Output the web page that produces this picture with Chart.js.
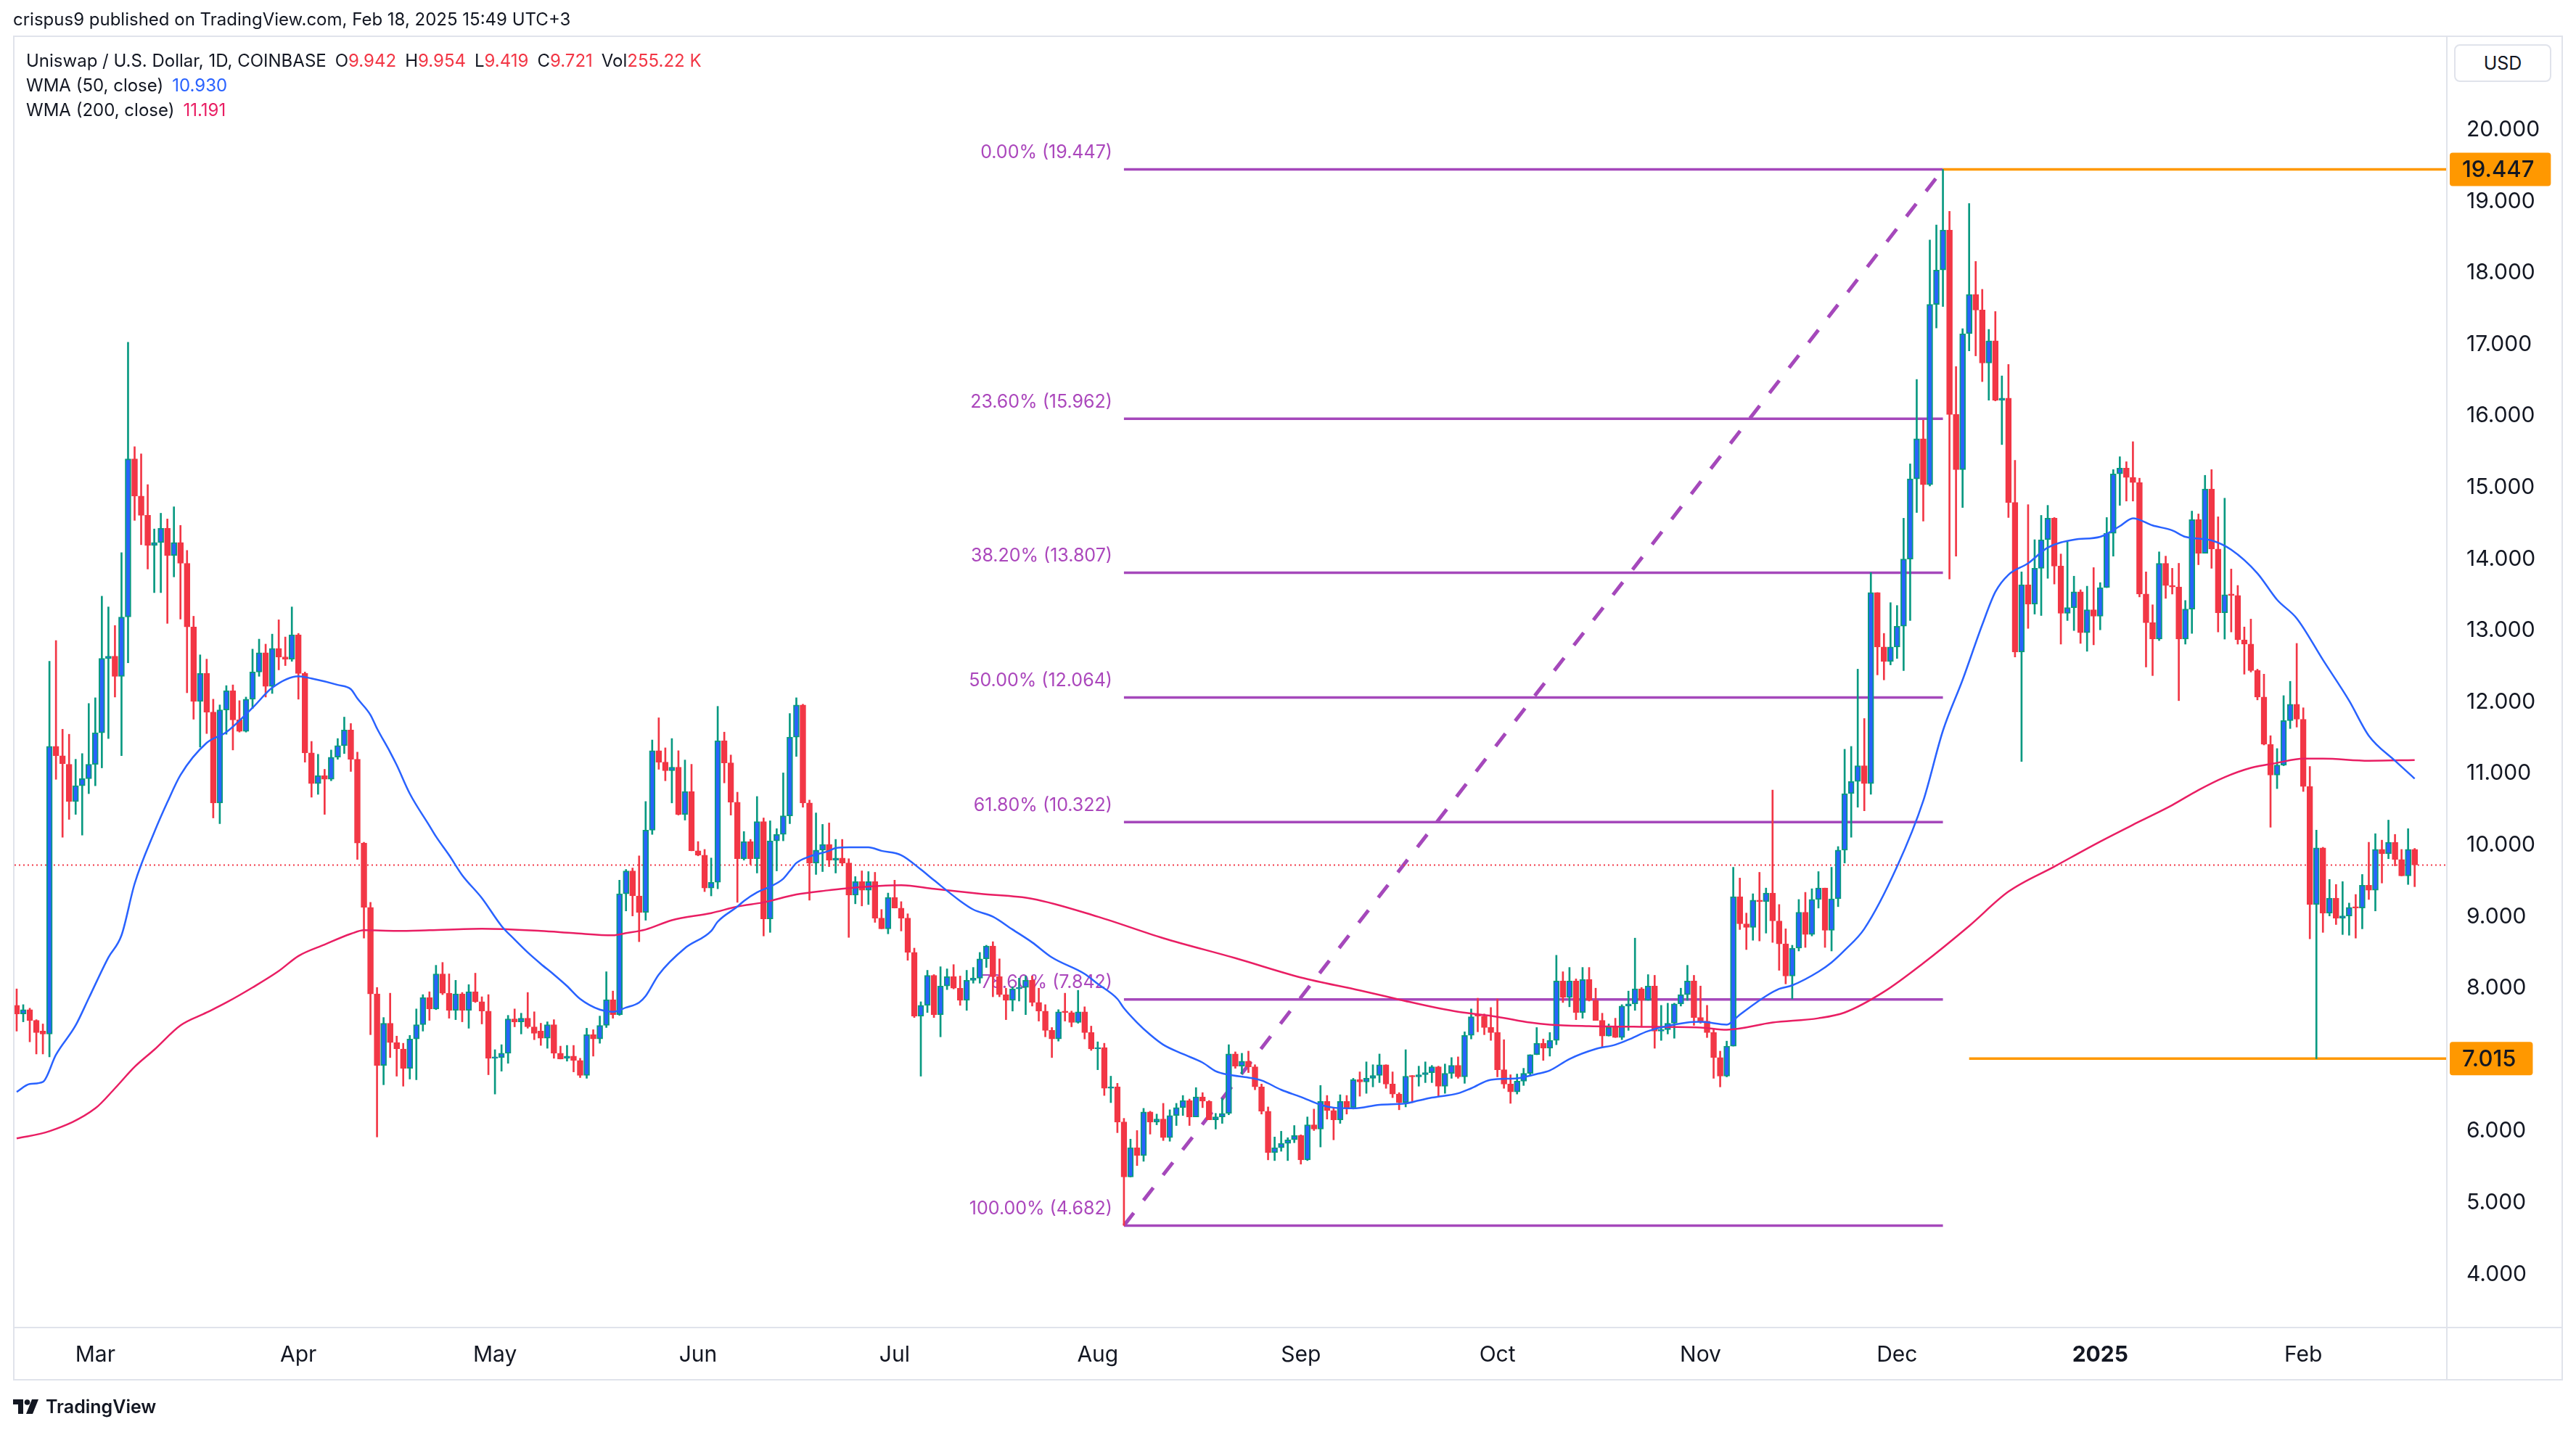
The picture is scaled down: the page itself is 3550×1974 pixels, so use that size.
<!DOCTYPE html>
<html lang="en">
  <head>
    <meta charset="UTF-8" />
    <title>Uniswap / U.S. Dollar, 1D, COINBASE</title>
    <script src="https://cdn.jsdelivr.net/npm/chart.js"></script>
    <style>
      html, body { margin: 0; padding: 0; background: #ffffff; }
      body { font-family: Inter, "Noto Sans", sans-serif; color: #131722; }
      #wrap { position: relative; width: 3550px; height: 1974px; overflow: hidden; }
      #chart { position: absolute; left: 0; top: 0; }
      .txt { position: absolute; white-space: nowrap; font-size: 24px; line-height: 34px; }
      .gap { margin-left: 12px; }
      .red { color: #f23645; }
      .blue { color: #2962ff; }
      .pink { color: #e91e63; }
      #usd { position: absolute; left: 3382px; top: 61px; width: 134px; height: 52px; border: 2px solid #e0e3eb; border-radius: 8px; box-sizing: border-box; font-size: 25px; line-height: 48px; text-align: center; background: #fff; }
      #logo { position: absolute; left: 18px; top: 1924px; display: flex; align-items: center; gap: 9px; font-size: 25px; font-weight: 600; }
    </style>
  </head>
  <body>
    <div id="wrap">
      <canvas id="chart" width="3550" height="1974"></canvas>

      <!-- header / legend -->
      <div class="txt" style="left:18px; top:10px;">crispus9 published on TradingView.com, Feb 18, 2025 15:49 UTC+3</div>
      <div class="txt" style="left:36px; top:67px;">Uniswap / U.S. Dollar, 1D, COINBASE<span class="gap">O</span><span class="red">9.942</span><span class="gap">H</span><span class="red">9.954</span><span class="gap">L</span><span class="red">9.419</span><span class="gap">C</span><span class="red">9.721</span><span class="gap">Vol</span><span class="red">255.22 K</span></div>
      <div class="txt" style="left:36px; top:101px;">WMA (50, close)<span class="gap blue">10.930</span></div>
      <div class="txt" style="left:36px; top:135px;">WMA (200, close)<span class="gap pink">11.191</span></div>
      <div id="usd">USD</div>

      <div id="logo">
        <svg width="36" height="28" viewBox="0 0 36 28">
          <path d="M0 4h14v20h-7v-13h-7z" fill="#131722"/>
          <circle cx="19.5" cy="8" r="3.8" fill="#131722"/>
          <path d="M26 4h9l-8 20h-9z" fill="#131722"/>
        </svg>
        <span>TradingView</span>
      </div>
    </div>

    <script>
      // ---- data (day 0 = 18 Feb 2024, one daily candle per day) ----
      const opens = [
        7.76, 7.64, 7.70, 7.55, 7.40, 7.36, 11.38, 11.25, 11.13, 10.61,
        10.83, 10.93, 11.13, 11.57, 12.61, 12.64, 12.36, 13.19, 15.40, 14.88,
        14.61, 14.19, 14.23, 14.43, 14.05, 14.23, 13.94, 13.05, 12.01, 12.40,
        11.86, 10.59, 11.89, 12.16, 11.75, 11.59, 12.04, 12.42, 12.69, 12.22,
        12.75, 12.63, 12.60, 12.94, 12.40, 11.29, 10.86, 10.97, 10.92, 11.23,
        11.39, 11.61, 11.20, 10.03, 9.13, 7.92, 6.92, 7.51, 7.24, 7.15,
        6.88, 7.29, 7.49, 7.87, 7.71, 8.20, 7.93, 7.69, 7.92, 7.69,
        7.95, 7.81, 7.68, 7.02, 7.03, 7.09, 7.57, 7.53, 7.58, 7.46,
        7.40, 7.30, 7.49, 7.09, 7.02, 7.05, 6.99, 6.78, 7.35, 7.29,
        7.48, 7.84, 7.63, 9.32, 9.64, 9.29, 9.06, 10.21, 11.32, 11.16,
        11.04, 11.09, 10.43, 10.75, 9.92, 9.86, 9.40, 9.48, 11.46, 11.15,
        10.60, 9.81, 10.05, 9.81, 10.33, 8.97, 10.06, 10.15, 10.41, 11.51,
        11.96, 10.59, 9.75, 9.93, 10.01, 9.79, 9.82, 9.75, 9.30, 9.49,
        9.37, 9.49, 8.98, 8.83, 9.27, 9.12, 8.98, 8.50, 7.61, 7.76,
        8.18, 7.63, 8.03, 8.16, 8.00, 7.83, 8.11, 8.14, 8.41, 8.59,
        8.16, 7.91, 7.83, 7.99, 8.01, 8.11, 7.80, 7.68, 7.41, 7.29,
        7.67, 7.66, 7.52, 7.67, 7.38, 7.15, 7.17, 6.60, 6.62, 6.13,
        5.36, 5.77, 5.66, 6.27, 6.13, 6.17, 5.91, 6.22, 6.33, 6.43,
        6.20, 6.48, 6.42, 6.16, 6.20, 6.25, 7.08, 6.91, 6.98, 6.90,
        6.62, 6.28, 5.70, 5.77, 5.83, 5.88, 5.94, 5.60, 6.09, 6.03,
        6.42, 6.29, 6.16, 6.42, 6.33, 6.72, 6.69, 6.74, 6.78, 6.93,
        6.66, 6.52, 6.40, 6.77, 6.76, 6.79, 6.82, 6.90, 6.63, 6.81,
        6.92, 6.76, 7.34, 7.63, 7.61, 7.45, 7.38, 6.86, 6.66, 6.55,
        6.70, 6.81, 7.07, 7.23, 7.16, 7.27, 8.10, 7.87, 8.10, 7.66,
        8.12, 7.83, 7.55, 7.33, 7.45, 7.31, 7.75, 7.78, 7.99, 7.83,
        8.03, 7.40, 7.42, 7.51, 7.78, 7.91, 8.10, 7.59, 7.54, 7.38,
        7.03, 6.77, 7.19, 9.28, 8.90, 8.85, 9.23, 9.21, 9.33, 8.94,
        8.62, 8.17, 8.56, 9.06, 8.75, 9.24, 9.40, 8.81, 9.25, 9.93,
        10.72, 10.89, 11.11, 10.86, 13.53, 12.77, 12.57, 12.77, 13.06, 14.00,
        15.12, 15.68, 15.04, 17.56, 18.04, 18.60, 16.02, 15.25, 17.15, 17.70,
        17.48, 16.74, 17.05, 16.22, 16.25, 14.79, 12.70, 13.64, 13.37, 13.87,
        14.27, 14.57, 13.90, 13.24, 13.32, 13.54, 12.97, 13.29, 13.20, 13.60,
        14.36, 15.19, 15.27, 15.14, 15.07, 13.51, 13.11, 12.88, 13.94, 13.63,
        13.61, 12.88, 13.30, 14.55, 14.08, 14.98, 14.14, 13.25, 13.50, 13.49,
        12.87, 12.81, 12.44, 12.07, 11.41, 10.98, 11.12, 11.74, 11.97, 11.76,
        10.82, 9.17, 9.96, 9.05, 9.26, 8.98, 9.01, 9.14, 9.12, 9.44,
        9.37, 9.94, 9.88, 10.04, 9.80, 9.57, 9.942
      ];
      const highs = [
        7.99, 7.77, 7.72, 7.56, 7.50, 12.57, 12.86, 11.62, 11.55, 11.20,
        11.28, 11.98, 12.06, 13.48, 13.33, 13.07, 14.09, 17.03, 15.57, 15.47,
        15.04, 14.42, 14.64, 14.56, 14.73, 14.47, 14.12, 13.20, 12.66, 12.60,
        12.04, 11.96, 12.23, 12.24, 12.02, 12.07, 12.74, 12.88, 12.81, 12.95,
        13.15, 12.91, 13.33, 12.96, 12.42, 11.45, 11.27, 11.06, 11.33, 11.49,
        11.79, 11.70, 11.30, 10.04, 9.20, 8.01, 7.59, 7.93, 7.33, 7.23,
        7.34, 7.71, 7.91, 7.95, 8.32, 8.36, 8.20, 8.11, 7.94, 8.05,
        8.21, 7.88, 7.91, 7.14, 7.21, 7.62, 7.71, 7.65, 7.94, 7.67,
        7.51, 7.53, 7.56, 7.19, 7.20, 7.20, 7.02, 7.44, 7.42, 7.61,
        8.23, 7.96, 9.51, 9.66, 9.68, 9.85, 10.61, 11.47, 11.78, 11.36,
        11.49, 11.32, 11.19, 11.13, 10.05, 9.94, 9.82, 11.94, 11.58, 11.26,
        10.74, 10.19, 10.08, 10.68, 10.38, 10.34, 10.23, 11.01, 11.84, 12.06,
        11.97, 10.63, 10.45, 10.29, 10.31, 10.08, 10.08, 9.81, 9.56, 9.64,
        9.63, 9.62, 9.10, 9.33, 9.51, 9.21, 9.04, 8.56, 7.81, 8.25,
        8.19, 8.30, 8.27, 8.33, 8.17, 8.25, 8.29, 8.50, 8.60, 8.65,
        8.41, 8.00, 8.02, 8.14, 8.17, 8.17, 8.00, 7.77, 7.45, 7.70,
        7.93, 7.68, 7.97, 7.74, 7.47, 7.25, 7.23, 6.77, 6.67, 6.18,
        5.89, 6.01, 6.32, 6.28, 6.24, 6.39, 6.30, 6.39, 6.50, 6.45,
        6.61, 6.54, 6.43, 6.25, 6.46, 7.21, 7.11, 7.09, 7.12, 6.93,
        6.66, 6.34, 5.92, 6.00, 5.91, 6.08, 5.95, 6.20, 6.31, 6.64,
        6.50, 6.33, 6.51, 6.50, 6.74, 6.83, 6.97, 6.93, 7.08, 6.93,
        6.83, 6.54, 7.14, 6.78, 6.91, 6.97, 6.92, 6.91, 6.94, 7.03,
        7.04, 7.39, 7.71, 7.86, 7.64, 7.73, 7.85, 7.28, 6.79, 6.80,
        6.88, 7.07, 7.45, 7.29, 7.38, 8.46, 8.23, 8.29, 8.13, 8.29,
        8.29, 8.00, 7.65, 7.50, 7.58, 7.77, 7.96, 8.70, 8.01, 8.19,
        8.18, 7.76, 7.79, 7.79, 8.00, 8.32, 8.18, 8.03, 7.76, 7.43,
        7.12, 7.26, 9.69, 9.54, 9.05, 9.32, 9.62, 9.40, 10.77, 9.17,
        8.83, 8.60, 9.24, 9.34, 9.39, 9.63, 9.40, 9.69, 9.98, 11.34,
        11.38, 12.46, 11.77, 13.81, 13.53, 12.96, 13.39, 13.35, 14.57, 15.33,
        16.51, 15.94, 18.46, 18.67, 19.447, 18.86, 16.69, 17.22, 18.97, 18.16,
        17.77, 17.21, 17.46, 16.56, 16.72, 15.38, 13.82, 14.76, 14.27, 14.61,
        14.75, 14.58, 14.07, 14.24, 13.76, 13.57, 13.62, 13.88, 13.67, 14.58,
        15.25, 15.43, 15.36, 15.64, 15.13, 13.82, 13.36, 14.10, 14.04, 13.87,
        13.94, 13.42, 14.67, 14.63, 15.17, 15.25, 14.59, 14.85, 13.86, 13.63,
        13.05, 13.16, 12.46, 12.39, 11.53, 11.35, 12.09, 12.29, 12.82, 11.92,
        11.10, 10.21, 9.97, 9.52, 9.45, 9.49, 9.19, 9.31, 9.59, 10.04,
        10.16, 10.07, 10.35, 10.15, 9.94, 10.23, 9.954
      ];
      const lows = [
        7.40, 7.53, 7.25, 7.08, 7.08, 7.04, 10.92, 10.11, 10.36, 10.43,
        10.14, 10.72, 10.83, 11.08, 11.49, 12.07, 11.25, 12.55, 14.54, 14.20,
        13.86, 13.53, 13.53, 13.10, 13.75, 13.16, 12.13, 11.76, 11.37, 11.56,
        10.38, 10.30, 11.55, 11.33, 11.58, 11.58, 11.91, 12.36, 12.07, 12.12,
        12.45, 12.51, 12.57, 12.04, 11.16, 10.67, 10.71, 10.43, 10.90, 11.20,
        11.28, 11.03, 9.80, 8.70, 7.35, 5.92, 6.65, 7.03, 6.77, 6.63,
        6.73, 6.72, 7.40, 7.55, 7.70, 7.91, 7.58, 7.56, 7.53, 7.44,
        7.80, 7.50, 6.79, 6.52, 6.84, 6.95, 7.46, 7.36, 7.44, 7.28,
        7.20, 7.16, 7.02, 7.01, 6.98, 6.83, 6.75, 6.74, 7.05, 7.23,
        7.45, 7.58, 7.62, 9.08, 9.01, 8.65, 8.95, 10.15, 11.06, 10.90,
        10.59, 10.42, 10.35, 9.92, 9.85, 9.35, 9.29, 9.39, 10.87, 10.42,
        9.20, 9.79, 9.73, 9.61, 8.73, 8.78, 9.64, 10.06, 10.30, 11.24,
        10.53, 9.23, 9.59, 9.63, 9.70, 9.61, 9.71, 8.71, 9.18, 9.15,
        9.17, 8.92, 8.83, 8.76, 9.12, 8.80, 8.39, 7.59, 6.77, 7.66,
        7.59, 7.32, 7.98, 7.99, 7.76, 7.69, 8.07, 8.07, 8.29, 7.88,
        7.88, 7.56, 7.68, 7.82, 7.63, 7.75, 7.54, 7.32, 7.03, 7.26,
        7.54, 7.46, 7.51, 7.29, 7.13, 6.86, 6.50, 6.40, 5.98, 4.682,
        5.36, 5.52, 5.58, 5.96, 6.09, 5.87, 5.86, 6.08, 6.22, 6.08,
        6.20, 6.33, 6.16, 6.03, 6.11, 6.23, 6.88, 6.80, 6.82, 6.58,
        6.24, 5.60, 5.59, 5.72, 5.59, 5.84, 5.54, 5.59, 6.01, 5.78,
        6.17, 5.88, 6.11, 6.24, 6.31, 6.49, 6.53, 6.62, 6.68, 6.60,
        6.47, 6.30, 6.34, 6.40, 6.63, 6.68, 6.68, 6.48, 6.53, 6.74,
        6.74, 6.67, 7.29, 7.39, 7.35, 7.27, 6.76, 6.60, 6.39, 6.52,
        6.64, 6.77, 7.07, 6.99, 7.05, 7.21, 7.80, 7.74, 7.56, 7.58,
        7.82, 7.55, 7.18, 7.33, 7.31, 7.28, 7.41, 7.69, 7.47, 7.83,
        7.16, 7.27, 7.36, 7.30, 7.75, 7.83, 7.48, 7.51, 7.31, 6.74,
        6.62, 6.76, 7.19, 8.82, 8.54, 8.67, 8.66, 8.77, 8.64, 8.25,
        8.06, 7.85, 8.52, 8.57, 8.73, 9.12, 8.57, 8.52, 9.14, 9.75,
        10.11, 10.53, 10.48, 10.71, 12.38, 12.31, 12.52, 12.61, 12.44, 13.14,
        14.65, 14.53, 15.02, 17.23, 17.53, 13.72, 14.04, 14.72, 16.91, 16.84,
        16.48, 16.22, 16.21, 15.60, 14.58, 12.63, 11.17, 13.03, 13.23, 13.21,
        13.73, 13.65, 12.81, 13.14, 13.00, 12.82, 12.71, 12.80, 13.01, 13.60,
        14.04, 14.75, 14.81, 14.81, 13.47, 12.49, 12.37, 12.86, 13.45, 13.51,
        12.02, 12.81, 12.96, 13.92, 14.08, 13.87, 12.98, 12.88, 12.98, 12.81,
        12.39, 12.42, 12.03, 11.40, 10.25, 10.79, 11.11, 11.63, 11.65, 10.75,
        8.69, 7.015, 8.78, 9.01, 8.89, 8.75, 8.74, 8.70, 8.83, 9.24,
        9.08, 9.47, 9.81, 9.71, 9.57, 9.45, 9.419
      ];
      const closes = [
        7.64, 7.70, 7.55, 7.38, 7.36, 11.38, 11.25, 11.14, 10.61, 10.83,
        10.93, 11.13, 11.57, 12.61, 12.64, 12.36, 13.19, 15.40, 14.88, 14.61,
        14.19, 14.23, 14.43, 14.05, 14.23, 13.94, 13.05, 12.01, 12.40, 11.86,
        10.59, 11.89, 12.16, 11.75, 11.59, 12.04, 12.42, 12.69, 12.22, 12.75,
        12.63, 12.60, 12.94, 12.40, 11.29, 10.86, 10.97, 10.92, 11.23, 11.39,
        11.61, 11.20, 10.03, 9.13, 7.92, 6.92, 7.51, 7.24, 7.15, 6.88,
        7.29, 7.49, 7.87, 7.71, 8.20, 7.93, 7.69, 7.92, 7.69, 7.95,
        7.81, 7.68, 7.02, 7.03, 7.09, 7.57, 7.53, 7.58, 7.46, 7.37,
        7.30, 7.49, 7.09, 7.01, 7.05, 6.99, 6.78, 7.35, 7.29, 7.48,
        7.84, 7.63, 9.32, 9.64, 9.29, 9.06, 10.21, 11.32, 11.16, 11.04,
        11.09, 10.43, 10.75, 9.92, 9.86, 9.40, 9.48, 11.46, 11.15, 10.60,
        9.81, 10.05, 9.81, 10.33, 8.97, 10.06, 10.15, 10.41, 11.51, 11.96,
        10.59, 9.75, 9.93, 10.01, 9.79, 9.82, 9.75, 9.30, 9.49, 9.37,
        9.49, 8.98, 8.83, 9.27, 9.12, 8.98, 8.50, 7.61, 7.76, 8.18,
        7.63, 8.03, 8.16, 8.00, 7.83, 8.11, 8.14, 8.41, 8.59, 8.16,
        7.91, 7.83, 7.99, 8.01, 8.11, 7.80, 7.68, 7.41, 7.29, 7.67,
        7.66, 7.52, 7.67, 7.38, 7.15, 7.17, 6.60, 6.62, 6.13, 5.36,
        5.77, 5.66, 6.27, 6.13, 6.17, 5.91, 6.22, 6.33, 6.43, 6.20,
        6.48, 6.42, 6.16, 6.20, 6.25, 7.08, 6.91, 6.98, 6.90, 6.62,
        6.28, 5.70, 5.77, 5.83, 5.88, 5.94, 5.60, 6.09, 6.03, 6.42,
        6.29, 6.16, 6.42, 6.33, 6.72, 6.69, 6.74, 6.78, 6.93, 6.66,
        6.52, 6.40, 6.77, 6.76, 6.79, 6.82, 6.90, 6.63, 6.81, 6.92,
        6.76, 7.34, 7.60, 7.61, 7.45, 7.38, 6.86, 6.66, 6.55, 6.70,
        6.81, 7.07, 7.23, 7.16, 7.27, 8.10, 7.87, 8.10, 7.66, 8.12,
        7.83, 7.55, 7.33, 7.45, 7.31, 7.75, 7.78, 7.99, 7.83, 8.03,
        7.40, 7.42, 7.51, 7.78, 7.91, 8.10, 7.59, 7.54, 7.38, 7.03,
        6.77, 7.19, 9.28, 8.90, 8.85, 9.23, 9.21, 9.33, 8.94, 8.62,
        8.17, 8.56, 9.06, 8.75, 9.24, 9.40, 8.81, 9.25, 9.93, 10.72,
        10.89, 11.11, 10.86, 13.53, 12.77, 12.57, 12.77, 13.06, 14.00, 15.12,
        15.68, 15.04, 17.56, 18.04, 18.60, 16.02, 15.25, 17.15, 17.70, 17.48,
        16.74, 17.05, 16.22, 16.25, 14.79, 12.70, 13.64, 13.37, 13.87, 14.27,
        14.57, 13.90, 13.24, 13.32, 13.54, 12.97, 13.29, 13.20, 13.60, 14.36,
        15.19, 15.27, 15.14, 15.07, 13.51, 13.11, 12.88, 13.94, 13.63, 13.61,
        12.88, 13.30, 14.55, 14.08, 14.98, 14.14, 13.25, 13.50, 13.49, 12.87,
        12.81, 12.44, 12.07, 11.41, 10.98, 11.12, 11.74, 11.97, 11.76, 10.82,
        9.17, 9.96, 9.05, 9.26, 8.98, 9.01, 9.13, 9.12, 9.44, 9.37,
        9.94, 9.88, 10.04, 9.80, 9.57, 9.942, 9.721
      ];

      // WMA readings (day index -> value)
      const wma50Days = [0, 2, 4, 6, 9, 11, 14, 16, 18, 21, 23, 25, 29, 32, 36, 39, 43, 45, 49, 51,
        52, 54, 55, 57, 58, 60, 63, 64, 66, 68, 71, 74, 76, 78, 80, 82, 84, 86, 89, 91,
        93, 95, 96, 98, 102, 106, 107, 110, 111, 113, 115, 117, 118, 119, 121, 124, 125, 127, 130, 132,
        135, 138, 140, 144, 146, 149, 152, 155, 158, 163, 165, 168, 169, 171, 173, 175, 178, 181, 183, 185,
        188, 190, 193, 196, 199, 201, 204, 208, 212, 214, 216, 220, 222, 225, 229, 232, 234, 237, 241, 244,
        246, 249, 255, 257, 261, 263, 267, 269, 271, 275, 277, 279, 282, 287, 291, 294, 297, 300, 302, 304,
        307, 310, 314, 318, 321, 323, 326, 329, 331, 335, 338, 342, 345, 348, 352, 356, 359, 363, 366];
      const wma50Values = [6.55, 6.66, 6.69, 7.07, 7.48, 7.86, 8.43, 8.74, 9.46, 10.18, 10.60, 10.98, 11.43, 11.58, 11.92, 12.20, 12.36, 12.33, 12.24, 12.18,
        12.05, 11.82, 11.63, 11.30, 11.12, 10.72, 10.27, 10.12, 9.86, 9.58, 9.26, 8.87, 8.68, 8.50, 8.34, 8.19, 8.03, 7.85, 7.70, 7.67,
        7.73, 7.80, 7.89, 8.19, 8.56, 8.80, 8.93, 9.14, 9.22, 9.34, 9.42, 9.53, 9.64, 9.75, 9.84, 9.92, 9.96, 9.97, 9.97, 9.92,
        9.86, 9.66, 9.51, 9.22, 9.10, 9.00, 8.82, 8.64, 8.43, 8.20, 8.06, 7.85, 7.72, 7.52, 7.35, 7.21, 7.08, 6.96, 6.84, 6.79,
        6.75, 6.71, 6.58, 6.48, 6.37, 6.33, 6.32, 6.37, 6.39, 6.43, 6.47, 6.53, 6.60, 6.72, 6.74, 6.80, 6.85, 7.01, 7.15, 7.21,
        7.28, 7.40, 7.52, 7.53, 7.49, 7.63, 7.89, 7.99, 8.04, 8.23, 8.36, 8.53, 8.83, 9.70, 10.62, 11.60, 12.31, 13.08, 13.54, 13.78,
        13.94, 14.16, 14.27, 14.31, 14.46, 14.57, 14.47, 14.40, 14.31, 14.26, 14.13, 13.80, 13.43, 13.17, 12.59, 12.02, 11.53, 11.18, 10.93];

      const wma200Days = [0, 5, 12, 15, 18, 21, 25, 29, 32, 36, 40, 43, 47, 51, 53, 58, 63, 71, 80, 85,
        91, 93, 96, 100, 106, 110, 114, 119, 124, 127, 135, 140, 147, 155, 165, 175, 186, 196, 205, 212,
        217, 220, 226, 231, 234, 240, 248, 257, 261, 268, 275, 279, 285, 291, 298, 304, 311, 318, 324, 329,
        333, 337, 341, 345, 349, 352, 359, 366];
      const wma200Values = [5.90, 6.00, 6.32, 6.60, 6.90, 7.14, 7.48, 7.66, 7.80, 8.01, 8.24, 8.45, 8.61, 8.76, 8.81, 8.80, 8.81, 8.83, 8.80, 8.77,
        8.74, 8.77, 8.82, 8.95, 9.05, 9.14, 9.20, 9.31, 9.37, 9.40, 9.44, 9.39, 9.32, 9.25, 9.00, 8.70, 8.42, 8.15, 7.97, 7.82,
        7.72, 7.67, 7.60, 7.52, 7.49, 7.47, 7.46, 7.45, 7.42, 7.52, 7.58, 7.66, 7.95, 8.35, 8.87, 9.35, 9.70, 10.05, 10.33, 10.56,
        10.77, 10.95, 11.08, 11.15, 11.21, 11.21, 11.18, 11.19];

      // Fibonacci retracement drawn from the Aug low to the Dec high
      const fibStartDay = 169;
      const fibEndDay = 294;
      const fibRatios = ['0.00%', '23.60%', '38.20%', '50.00%', '61.80%', '78.60%', '100.00%'];
      const fibLevels = [19.447, 15.962, 13.807, 12.064, 10.322, 7.842, 4.682];

      const highMark = 19.447, highMarkDay = 294;
      const lowMark = 7.015, lowMarkDay = 298;
      const lastPrice = 9.721;

      const monthDays = [12, 43, 73, 104, 134, 165, 196, 226, 257, 287, 318, 349];
      const monthLabels = ['Mar', 'Apr', 'May', 'Jun', 'Jul', 'Aug', 'Sep', 'Oct', 'Nov', 'Dec', '2025', 'Feb'];
      const priceTicks = [4, 5, 6, 7, 8, 9, 10, 11, 12, 13, 14, 15, 16, 17, 18, 19, 20];

      // ---- chart ----
      const FONT = 'Inter, "Noto Sans", sans-serif';
      Chart.defaults.font.family = FONT;
      const xMin = -0.33, xMax = 370.8;
      const yMin = 3.266, yMax = 21.308;

      const UP = '#089981', UP_FILL = '#2962ff', DOWN = '#f23645';
      const isUp = closes.map((c, i) => c >= opens[i]);
      const bodies = closes.map((c, i) => ({ x: i, y: [opens[i], c] }));
      const wicks = closes.map((c, i) => ({ x: i, y: [lows[i], highs[i]] }));

      const flatLine = (x0, x1, v) => [{ x: x0, y: v }, { x: x1, y: v }];
      const FIB = '#a548bb';

      const overlayPlugin = {
        id: 'overlay',
        beforeDatasetsDraw(chart) {
          const { ctx, scales: { x, y } } = chart;
          ctx.save();
          ctx.font = '25px ' + FONT;
          ctx.fillStyle = '#ab47bc';
          ctx.textAlign = 'right';
          ctx.textBaseline = 'middle';
          const lx = x.getPixelForValue(fibStartDay) - 16;
          fibLevels.forEach((lv, i) => {
            ctx.fillText(fibRatios[i] + ' (' + lv.toFixed(3) + ')', lx, y.getPixelForValue(lv) - 23);
          });
          ctx.restore();
        },
        afterDraw(chart) {
          const { ctx, chartArea: a, scales: { y } } = chart;
          ctx.save();
          // frame + axis separators
          ctx.strokeStyle = '#e0e3eb';
          ctx.lineWidth = 2;
          ctx.strokeRect(19, 50, 3512, 1852);
          ctx.beginPath();
          ctx.moveTo(a.right + 1, 50); ctx.lineTo(a.right + 1, 1902);
          ctx.moveTo(19, a.bottom + 1); ctx.lineTo(3531, a.bottom + 1);
          ctx.stroke();
          // orange price tags on the axis
          ctx.font = '500 31px ' + FONT;
          ctx.textAlign = 'left';
          ctx.textBaseline = 'middle';
          [highMark, lowMark].forEach(v => {
            const label = v.toFixed(3);
            const w = ctx.measureText(label).width + 40;
            const yy = y.getPixelForValue(v);
            ctx.fillStyle = '#ff9800';
            ctx.beginPath();
            ctx.roundRect(a.right + 5, yy - 23, w, 46, 4);
            ctx.fill();
            ctx.fillStyle = '#131722';
            ctx.fillText(label, a.right + 22, yy + 1);
          });
          ctx.restore();
        }
      };

      new Chart(document.getElementById('chart'), {
        type: 'bar',
        data: {
          datasets: [
            {
              type: 'line', label: 'WMA 50', order: 0,
              data: wma50Days.map((d, i) => ({ x: d, y: wma50Values[i] })),
              borderColor: '#2962ff', borderWidth: 2.5, pointRadius: 0, cubicInterpolationMode: 'monotone'
            },
            {
              type: 'line', label: 'WMA 200', order: 1,
              data: wma200Days.map((d, i) => ({ x: d, y: wma200Values[i] })),
              borderColor: '#e91e63', borderWidth: 2.5, pointRadius: 0, cubicInterpolationMode: 'monotone'
            },
            {
              label: 'Body', order: 2, data: bodies, grouped: false,
              barThickness: 8, minBarLength: 2, borderWidth: 2, borderSkipped: false,
              backgroundColor: isUp.map(u => u ? UP_FILL : DOWN),
              borderColor: isUp.map(u => u ? UP : DOWN)
            },
            {
              label: 'Wick', order: 3, data: wicks, grouped: false, barThickness: 2,
              backgroundColor: isUp.map(u => u ? UP : DOWN)
            },
            {
              type: 'line', label: 'Last', order: 4, data: flatLine(xMin - 2, xMax + 2, lastPrice),
              borderColor: DOWN, borderWidth: 2, borderDash: [2, 4], pointRadius: 0
            },
            {
              type: 'line', label: 'High', order: 5, data: flatLine(highMarkDay, xMax + 2, highMark),
              borderColor: '#ff9800', borderWidth: 3.5, pointRadius: 0
            },
            {
              type: 'line', label: 'Low', order: 5, data: flatLine(lowMarkDay, xMax + 2, lowMark),
              borderColor: '#ff9800', borderWidth: 3.5, pointRadius: 0
            },
            ...fibLevels.map(lv => ({
              type: 'line', label: 'Fib ' + lv, order: 6, data: flatLine(fibStartDay, fibEndDay, lv),
              borderColor: FIB, borderWidth: 3.5, pointRadius: 0
            })),
            {
              type: 'line', label: 'Trend', order: 6,
              data: [{ x: fibStartDay, y: fibLevels[6] }, { x: fibEndDay, y: fibLevels[0] }],
              borderColor: FIB, borderWidth: 5, borderDash: [22, 22], pointRadius: 0
            }
          ]
        },
        options: {
          responsive: false,
          animation: false,
          devicePixelRatio: 1,
          layout: { padding: { left: 20, right: 18, top: 50, bottom: 45 } },
          plugins: { legend: { display: false }, tooltip: { enabled: false } },
          scales: {
            x: {
              type: 'linear', min: xMin, max: xMax, offset: false,
              grid: { display: false, drawTicks: false }, border: { display: false },
              afterBuildTicks: s => { s.ticks = monthDays.map(v => ({ value: v })); },
              afterFit: s => { s.height = 100; },
              ticks: {
                autoSkip: false, maxRotation: 0, padding: 21, color: '#131722',
                font: c => ({ size: 30, weight: c.tick && c.tick.label === '2025' ? '700' : '400' }),
                callback: v => monthLabels[monthDays.indexOf(v)]
              }
            },
            y: {
              position: 'right', min: yMin, max: yMax,
              grid: { display: false, drawTicks: false }, border: { display: false },
              afterBuildTicks: s => { s.ticks = priceTicks.map(v => ({ value: v })); },
              afterFit: s => { s.width = 161; },
              ticks: { padding: 28, crossAlign: 'near', color: '#131722', font: { size: 30 }, callback: v => v.toFixed(3) }
            }
          }
        },
        plugins: [overlayPlugin]
      });
    </script>
  </body>
</html>
